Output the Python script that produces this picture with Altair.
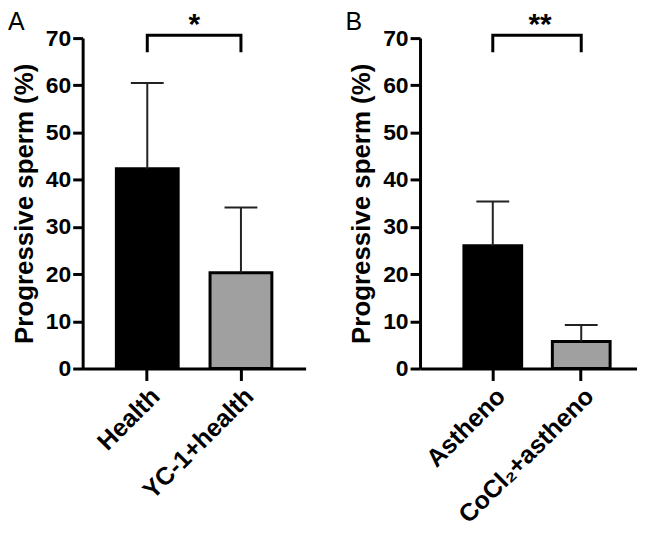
import altair as alt
import pandas as pd

# ---- data ----
groups_a = ["Health", "YC-1+health"]
means_a = [42.3, 20.3]
sd_a = [18.2, 13.8]
bracket_pos_a = ["Health", "Health", "YC-1+health", "YC-1+health"]
bracket_y_a = [67.3, 70.6, 70.6, 67.3]
star_a = "*"

groups_b = ["Astheno", "CoCl\u2082+astheno"]
means_b = [26.0, 5.7]
sd_b = [9.4, 3.5]
bracket_pos_b = ["Astheno", "Astheno", "CoCl\u2082+astheno", "CoCl\u2082+astheno"]
bracket_y_b = [67.3, 70.6, 70.6, 67.3]
star_b = "**"

fills = ["#000000", "#a0a0a0"]
y_ticks = [0, 10, 20, 30, 40, 50, 60, 70]
y_title = "Progressive sperm (%)"
FONT = "Liberation Sans"
H = 332


def panel(letter, groups, means, sds, bpos, by, stars, width, pad_in, pad_out, align, step):
    df = pd.DataFrame({"g": groups, "m": means, "top": [m + s for m, s in zip(means, sds)],
                       "fill": fills})
    xs = alt.X("g:N", sort=groups, title=None,
               scale=alt.Scale(paddingInner=pad_in, paddingOuter=pad_out, align=align),
               axis=alt.Axis(labelAngle=-45, labelFontSize=25, labelFontWeight="bold",
                             labelFont=FONT, labelColor="black", tickSize=12, tickWidth=3,
                             tickColor="black", domainWidth=3, domainColor="black",
                             labelPadding=3, labelLimit=400))
    ys = alt.Y("m:Q", title=y_title,
               scale=alt.Scale(domain=[0, 70], nice=False),
               axis=alt.Axis(values=y_ticks, grid=False, labelFontSize=23, labelFontWeight="bold",
                             labelFont=FONT, labelColor="black", tickSize=10, tickWidth=3,
                             tickColor="black", domainWidth=3, domainColor="black",
                             labelPadding=2, titleFontSize=26, titleFontWeight="bold",
                             titleFont=FONT, titleColor="black", titlePadding=8))
    base = alt.Chart(df)
    bars = base.mark_bar(stroke="black", strokeWidth=3).encode(
        x=xs, y=ys, fill=alt.Fill("fill:N", scale=None))
    err = base.mark_rule(strokeWidth=2, color="#222222").encode(
        x=alt.X("g:N", sort=groups), y="m:Q", y2="top:Q")
    cap = base.mark_tick(size=33, thickness=2, color="#222222", opacity=1).encode(
        x=alt.X("g:N", sort=groups), y="top:Q")
    bdf = pd.DataFrame({"g": bpos, "y": by, "o": [0, 1, 2, 3]})
    bracket = alt.Chart(bdf).mark_line(color="black", strokeWidth=3, strokeCap="square").encode(
        x=alt.X("g:N", sort=groups), y="y:Q", order="o:Q")
    sdf = pd.DataFrame({"g": [groups[0]], "y": [70.85], "t": [stars]})
    star = alt.Chart(sdf).mark_text(fontSize=30, fontWeight="bold", font=FONT, color="black",
                                    baseline="alphabetic", align="center", dx=step / 2).encode(
        x=alt.X("g:N", sort=groups), y="y:Q", text="t:N")
    ldf = pd.DataFrame({"t": [letter]})
    let = alt.Chart(ldf).mark_text(fontSize=25, font=FONT, color="black",
                                   baseline="alphabetic", align="left").encode(
        x=alt.value(-75), y=alt.value(-8), text="t:N")
    return alt.layer(bars, err, cap, bracket, star, let).properties(width=width, height=H)


pa = panel("A", groups_a, means_a, sd_a, bracket_pos_a, bracket_y_a, star_a,
           224, 0.34, 0.36, 0.5, 94.5)
pb = panel("B", groups_b, means_b, sd_b, bracket_pos_b, bracket_y_b, star_b,
           218, 0.347, 0.4, 0.62, 95)

chart = alt.hconcat(pa, pb, spacing=40).properties(padding=0).configure_view(stroke=None)
chart.save("out.html", embed_options={"renderer": "svg", "actions": False})
